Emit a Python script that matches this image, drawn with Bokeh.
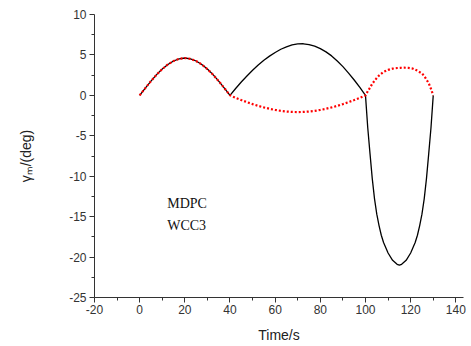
from bokeh.plotting import figure
from bokeh.models import Range1d, FixedTicker, Label
from bokeh.embed import file_html
from bokeh.resources import INLINE

# ---- data ----
time_mdpc = [0, 2.5, 5, 7.5, 10, 12.5, 15, 17.5, 20, 22.5, 25, 27.5, 30, 32.5, 35, 37.5, 40,
             42.5, 45, 47.5, 50, 52.5, 55, 57.5, 60, 62.5, 65, 67.5, 70, 72.5, 75, 77.5, 80,
             82.5, 85, 87.5, 90, 92.5, 95, 97.5, 100,
             101, 102, 103, 104, 105, 106, 107, 108, 110, 112, 114, 115,
             116, 118, 120, 122, 123, 124, 125, 126, 127, 128, 129, 130]
gamma_mdpc = [0, 0.9, 1.76, 2.56, 3.25, 3.82, 4.25, 4.52, 4.62, 4.52, 4.25, 3.82, 3.25, 2.56, 1.76, 0.9, 0,
              0.85, 1.65, 2.4, 3.1, 3.75, 4.35, 4.85, 5.3, 5.7, 6.0, 6.25, 6.37, 6.38, 6.28, 6.08, 5.78,
              5.38, 4.88, 4.25, 3.55, 2.75, 1.9, 0.98, 0,
              -4.0, -7.2, -10.3, -12.8, -14.7, -16.1, -17.3, -18.2, -19.5, -20.4, -20.9, -21.0,
              -20.9, -20.4, -19.5, -18.2, -17.3, -16.1, -14.7, -12.8, -10.3, -7.2, -4.0, 0]

time_wcc3 = [0, 2.5, 5, 7.5, 10, 12.5, 15, 17.5, 20, 22.5, 25, 27.5, 30, 32.5, 35, 37.5, 40,
             42.5, 45, 47.5, 50, 52.5, 55, 57.5, 60, 62.5, 65, 67.5, 70, 72.5, 75, 77.5, 80,
             82.5, 85, 87.5, 90, 92.5, 95, 97.5, 100,
             101, 102, 103, 104, 105, 106, 108, 110, 112, 114, 115.5, 117,
             119, 121, 123, 125, 126, 127, 128, 129, 130]
gamma_wcc3 = [0, 0.9, 1.76, 2.56, 3.25, 3.82, 4.25, 4.52, 4.62, 4.52, 4.25, 3.82, 3.25, 2.56, 1.76, 0.9, 0,
              -0.3, -0.58, -0.84, -1.08, -1.3, -1.49, -1.66, -1.8, -1.92, -2.0, -2.05, -2.07, -2.05, -2.0, -1.92, -1.8,
              -1.66, -1.49, -1.3, -1.08, -0.84, -0.58, -0.3, 0,
              0.5, 0.95, 1.43, 1.8, 2.15, 2.45, 2.9, 3.15, 3.3, 3.38, 3.41, 3.42,
              3.4, 3.3, 3.05, 2.7, 2.4, 1.95, 1.5, 0.8, 0]

x_ticks = [-20, 0, 20, 40, 60, 80, 100, 120, 140]
x_tick_labels = ["-20", "0", "20", "40", "60", "80", "100", "120", "140"]
x_minor_ticks = [-10, 10, 30, 50, 70, 90, 110, 130]
y_ticks = [-25, -20, -15, -10, -5, 0, 5, 10]
y_tick_labels = ["-25", "-20", "-15", "-10", "-5", "0", "5", "10"]
y_minor_ticks = [-22.5, -17.5, -12.5, -7.5, -2.5, 2.5, 7.5]

x_label = "Time/s"
y_label = "\u03b3\u2098/(deg)"
annotations = ["MDPC", "WCC3"]
annotation_x = 12.2
annotation_y = [-13.37, -16.09]

# ---- figure ----
p = figure(frame_width=369, frame_height=283, output_backend="svg", toolbar_location=None,
           x_range=Range1d(-20, 143.4), y_range=Range1d(-25, 10),
           min_border_left=94, min_border_right=8, min_border_top=14, min_border_bottom=49)
p.outline_line_color = None
p.xgrid.visible = False
p.ygrid.visible = False
p.background_fill_color = "white"
p.border_fill_color = "white"

p.line(time_mdpc, gamma_mdpc, line_color="black", line_width=1.3)
p.line(time_wcc3, gamma_wcc3, line_color="#ff0000", line_width=2.2, line_dash="2 2")

tick_font = "Liberation Sans"
for ax in (p.xaxis[0], p.yaxis[0]):
    ax.axis_line_color = "#333333"
    ax.major_tick_line_color = "#333333"
    ax.minor_tick_line_color = "#333333"
    ax.major_tick_in = 0
    ax.major_tick_out = 5
    ax.minor_tick_in = 0
    ax.minor_tick_out = 3
    ax.major_label_text_font = tick_font
    ax.major_label_text_font_size = "12px"
    ax.major_label_text_color = "#333333"
    ax.axis_label_text_font = tick_font
    ax.axis_label_text_font_size = "14px"
    ax.axis_label_text_font_style = "normal"
    ax.axis_label_text_color = "#222222"

p.xaxis.ticker = FixedTicker(ticks=x_ticks, minor_ticks=x_minor_ticks)
p.yaxis.ticker = FixedTicker(ticks=y_ticks, minor_ticks=y_minor_ticks)
p.xaxis.major_label_overrides = {t: s for t, s in zip(x_ticks, x_tick_labels)}
p.yaxis.major_label_overrides = {t: s for t, s in zip(y_ticks, y_tick_labels)}
p.xaxis.axis_label = x_label
p.yaxis.axis_label = y_label
p.xaxis.major_label_standoff = 2
p.yaxis.major_label_standoff = 3
p.xaxis.axis_label_standoff = 10
p.yaxis.axis_label_standoff = 32

for txt, yy in zip(annotations, annotation_y):
    p.add_layout(Label(x=annotation_x, y=yy, text=txt, text_font="Liberation Serif",
                       text_font_size="14px", text_baseline="middle", text_color="#111111"))

open("out.html", "w").write(file_html(p, INLINE))
